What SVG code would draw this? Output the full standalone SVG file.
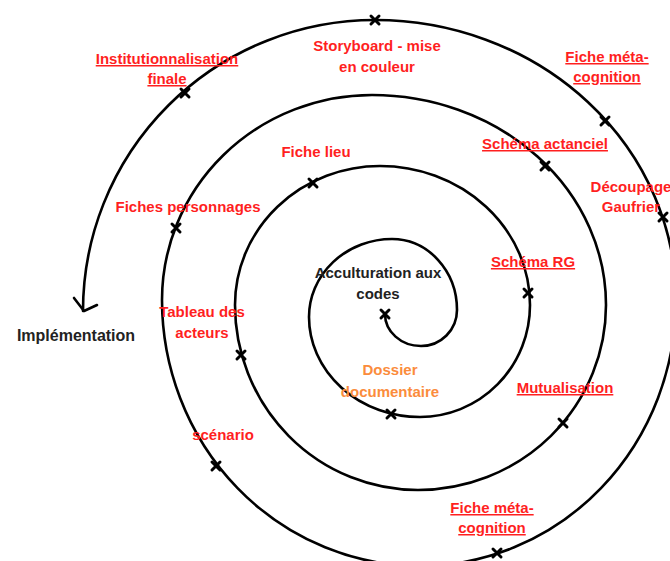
<svg xmlns="http://www.w3.org/2000/svg" width="670" height="561" viewBox="0 0 670 561">
<defs>
<style>
text{font-family:"Liberation Sans",Arial,sans-serif;font-weight:bold;font-size:15px;text-anchor:middle}
.r{fill:#ff1f1f}
.o{fill:#fb8c3c}
.k{fill:#222}
.u{text-decoration:underline}
.sp{fill:none;stroke:#000;stroke-width:2.6;stroke-linecap:round;stroke-linejoin:round}
.mk{stroke:#000;stroke-width:3;stroke-linecap:round}
</style>
<g id="x"><path class="mk" d="M-4,-4L4,4M-4,4L4,-4"/></g>
</defs>
<rect width="670" height="561" fill="#fff"/>
<g id="connectors">
<path class="sp" d="M385,314 A36,32 0 0 0 421,346 A36,36 0 0 0 457,310 A65,71 0 0 0 392,239 A83,78 0 0 0 309,317 A111,100 0 0 0 420,417 A110,112 0 0 0 530,305 A150,139 0 0 0 380,166 A145,139 0 0 0 235,305 A183,185 0 0 0 418,490 A188,185 0 0 0 606,305 A234,210 0 0 0 372,95 A210,205 0 0 0 162,300 A258,266 0 0 0 420,566 A256,266 0 0 0 676,300 A301,280 0 0 0 375,20 A292,291 0 0 0 83,311"/>
<polyline class="sp" points="74,298 84,311 97,305"/>
</g>
<g id="n-acculturation"><use href="#x" x="385" y="314"/><text class="k" x="378" y="278">Acculturation aux<tspan x="378" dy="21">codes</tspan></text></g>
<g id="n-dossier"><use href="#x" x="391" y="414"/><text class="o" x="390" y="375">Dossier<tspan x="390" dy="22">documentaire</tspan></text></g>
<g id="n-schema-rg"><use href="#x" x="528" y="293"/><text class="r u" x="533" y="267">Schéma RG</text></g>
<g id="n-fiche-lieu"><use href="#x" x="313" y="183"/><text class="r" x="316" y="157">Fiche lieu</text></g>
<g id="n-tableau"><use href="#x" x="241" y="355"/><text class="r" x="202" y="317">Tableau des<tspan x="202" dy="21">acteurs</tspan></text></g>
<g id="n-mutualisation"><use href="#x" x="563" y="423"/><text class="r u" x="565" y="393">Mutualisation</text></g>
<g id="n-schema-actanciel"><use href="#x" x="545" y="166"/><text class="r u" x="545" y="149">Schéma actanciel</text></g>
<g id="n-fiches-personnages"><use href="#x" x="176" y="228"/><text class="r" x="188" y="212">Fiches personnages</text></g>
<g id="n-scenario"><use href="#x" x="216" y="466"/><text class="r" x="223" y="440">scénario</text></g>
<g id="n-fiche-meta-2"><use href="#x" x="497" y="553"/><text class="r u" x="492" y="513">Fiche méta-<tspan x="492" dy="20">cognition</tspan></text></g>
<g id="n-decoupage"><use href="#x" x="663" y="217"/><text class="r" x="631" y="192">Découpage<tspan x="631" dy="20">Gaufrier</tspan></text></g>
<g id="n-fiche-meta-1"><use href="#x" x="605" y="121"/><text class="r u" x="607" y="62">Fiche méta-<tspan x="607" dy="20">cognition</tspan></text></g>
<g id="n-storyboard"><use href="#x" x="375" y="20"/><text class="r" x="377" y="51">Storyboard - mise<tspan x="377" dy="21">en couleur</tspan></text></g>
<g id="n-institutionnalisation"><use href="#x" x="185" y="93"/><text class="r u" x="167" y="64">Institutionnalisation<tspan x="167" dy="20">finale</tspan></text></g>
<g id="n-implementation"><text class="k" x="76" y="341" style="font-size:16px">Implémentation</text></g>
</svg>
